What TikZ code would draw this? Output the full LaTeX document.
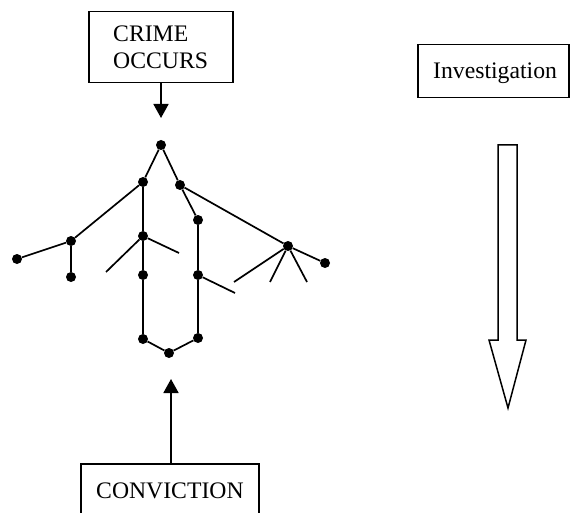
\documentclass[tikz,border=0pt]{standalone}
\usepackage{fontspec}
\setmainfont{Liberation Serif}
\usetikzlibrary{arrows.meta}
\begin{document}
\begin{tikzpicture}[x=1bp,y=-1bp,
  frame/.style={draw, line width=1.5bp, inner sep=0pt},
  txt/.style={font=\fontsize{23.7bp}{27bp}\selectfont, inner sep=0pt},
  dot/.style={circle, fill=black, draw=none, inner sep=0pt, minimum size=10bp},
  edge/.style={line width=1.7bp},
  arr/.style={line width=1.7bp, -{Triangle[length=14bp,width=15bp]}}]
\useasboundingbox (0,0) rectangle (570,513);
% boxes
\node[frame, anchor=north west, minimum width=144bp, minimum height=71bp] (crime) at (88,11) {};
\node[txt, anchor=base west, align=left] (crimetxt) at (113,42) {CRIME};
\node[txt, anchor=base west, align=left] (crimetxt2) at (113,69) {OCCURS};
\node[frame, anchor=north west, minimum width=151bp, minimum height=53bp] (inv) at (417,44) {};
\node[txt, anchor=base west] (invtxt) at (433,79) {Investigation};
\node[txt, anchor=base west] (convtxt) at (96,498) {CONVICTION};
\coordinate (cvsw) at (81,520);
\coordinate (cvnw) at (81,464);
\coordinate (cvne) at (259,464);
\coordinate (cvse) at (259,520);
\draw[line width=1.5bp] (cvsw) -- (cvnw) -- (cvne) -- (cvse);
\coordinate (convtop) at (171,464);
% arrows
\coordinate (crimetip) at (161,118);
\draw[arr] (crime.south -| crimetip) -- (crimetip);
\coordinate (convtip) at (171,379);
\draw[arr] (convtop) -- (convtip);
% hollow arrow
\draw[line width=1.5bp, line join=miter] (498,145) -- (517,145) -- (517,340) -- (526,340) -- (508,408) -- (489,340) -- (498,340) -- cycle;
% tree
\node[dot] (t) at (161,145) {};
\node[dot] (a) at (143,182) {};
\node[dot] (b) at (180,185) {};
\node[dot] (c) at (198,220) {};
\node[dot] (l1) at (71,241) {};
\node[dot] (l2) at (17,259) {};
\node[dot] (l3) at (71,277) {};
\node[dot] (m1) at (143,236) {};
\node[dot] (m2) at (143,275) {};
\node[dot] (m3) at (143,339) {};
\node[dot] (bot) at (169,353) {};
\node[dot] (r3) at (198,338) {};
\node[dot] (r2) at (198,275) {};
\node[dot] (s) at (288,246) {};
\node[dot] (s2) at (325,263) {};
\coordinate (f1) at (106,272);
\coordinate (f2) at (179,253);
\coordinate (f3) at (235,293);
\coordinate (f4) at (234,282);
\coordinate (f5) at (270,282);
\coordinate (f6) at (307,282);
\draw[edge] (a) -- (t) -- (b);
\draw[edge] (a) -- (l1) -- (l2);
\draw[edge] (l1) -- (l3);
\draw[edge] (a) -- (m1) -- (m2) -- (m3) -- (bot) -- (r3) -- (r2) -- (c) -- (b);
\draw[edge] (b) -- (s) -- (s2);
\draw[edge] (m1) -- (f1);
\draw[edge] (m1) -- (f2);
\draw[edge] (r2) -- (f3);
\draw[edge] (s) -- (f4);
\draw[edge] (s) -- (f5);
\draw[edge] (s) -- (f6);
\end{tikzpicture}
\end{document}
